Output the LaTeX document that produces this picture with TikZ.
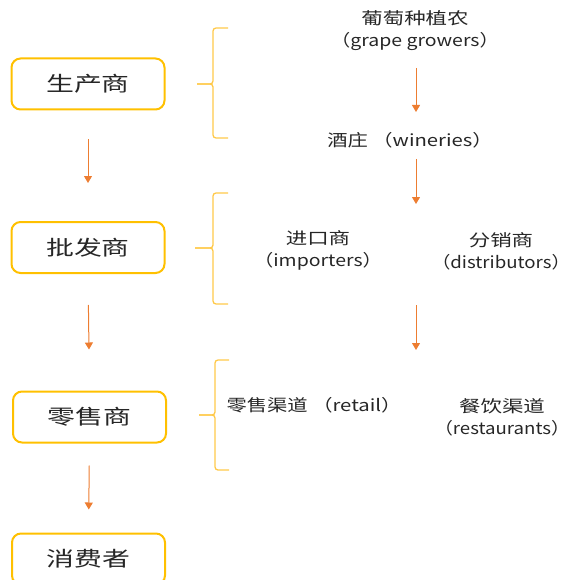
\documentclass[tikz,border=0pt]{standalone}
\usepackage{graphicx}
\usepackage{fontspec}
\setmainfont{Noto Sans CJK SC}
\usetikzlibrary{arrows.meta}
\definecolor{boxgold}{HTML}{FFC000}
\definecolor{brgold}{HTML}{FFC94A}
\definecolor{arrorange}{HTML}{ED7D31}
\newcommand{\wb}[1]{\scalebox{1.36}[1]{#1}}
\newcommand{\wl}[1]{\scalebox{1.3}[1]{#1}}
\newcommand{\wpar}[1]{\scalebox{1.18}[1]{#1}}
\newcommand{\wnar}[1]{\scalebox{1.13}[1]{#1}}
\newcommand{\wm}[1]{\scalebox{1.23}[1]{#1}}
\tikzset{
  box/.style={draw=boxgold, line width=2pt, rounded corners=9pt, minimum width=153pt, minimum height=51pt, inner sep=0pt, font=\fontsize{20.5}{22}\selectfont, text=black!85},
  lbl/.style={align=center, inner sep=0pt, font=\fontsize{16.5}{22}\selectfont, text=black!85},
  arr/.style={draw=arrorange, line width=1pt, -{Triangle[width=8pt,length=7pt]}},
  brk/.style={draw=brgold, line width=1.3pt, rounded corners=3pt}
}
\begin{document}
\begin{tikzpicture}[x=1pt,y=-1pt]
\useasboundingbox (0,0) rectangle (569,580);
% boxes
\node[box] (b1) at (88,84) {\wb{生产商}};
\node[box] (b2) at (88,247.5) {\wb{批发商}};
\node[box] (b3) at (89.5,417) {\wb{零售商}};
\node[box] (b4) at (88.5,559) {\wb{消费者}};
% left arrows
\draw[arr, shorten <=29pt, shorten >=38pt] (b1.south) -- (b2.north);
\draw[arr, shorten <=31pt, shorten >=41pt] (b2.south) -- (b3.north);
\draw[arr, shorten <=22pt, shorten >=23pt] (b3.south) -- (b4.north);
% brackets
\draw[brk] (228,28) -- (213,28) -- (213,84) -- (197,84);
\draw[brk] (228,138) -- (213,138) -- (213,84) -- (197,84);
\draw[brk] (228,193) -- (213,193) -- (213,248) -- (195,248);
\draw[brk] (228,304) -- (213,304) -- (213,248) -- (195,248);
\draw[brk] (229,360) -- (215,360) -- (215,415) -- (199,415);
\draw[brk] (229,470) -- (215,470) -- (215,415) -- (199,415);
% labels
\node[lbl] (grow) at (415,31) {\wl{葡萄种植农}\\\wpar{（grape growers）}};
\node[lbl] (win) at (410,140) {\wm{酒庄 （wineries）}};
\node[lbl] (imp) at (318,250.5) {\wl{进口商}\\\wpar{（importers）}};
\node[lbl] (dis) at (501,251) {\wl{分销商}\\\wnar{（distributors）}};
\node[lbl] (ret) at (314,405) {\wm{零售渠道 （retail）}};
\node[lbl] (res) at (502,417) {\wl{餐饮渠道}\\\wnar{（restaurants）}};
% right arrows
\coordinate (a1s) at (416,68);
\coordinate (a1e) at (416,112);
\coordinate (a2s) at (416,159);
\coordinate (a2e) at (416,204);
\coordinate (a3s) at (416,305);
\coordinate (a3e) at (416,350);
\draw[arr] (a1s) -- (a1e);
\draw[arr] (a2s) -- (a2e);
\draw[arr] (a3s) -- (a3e);
\end{tikzpicture}
\end{document}
